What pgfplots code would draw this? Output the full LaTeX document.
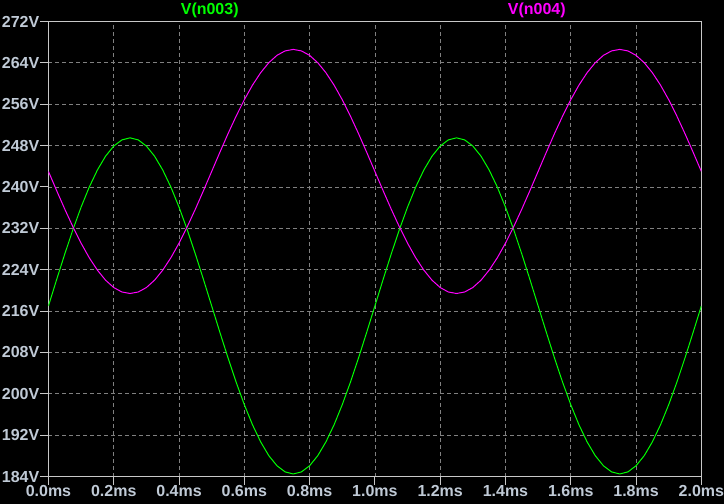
\documentclass[border=0pt]{standalone}
\usepackage{pgfplots}
\usepackage{pgfplotstable}
\usepackage{fontspec}
\setmainfont{Liberation Sans}
\pgfplotsset{compat=1.18}
\definecolor{ticklab}{RGB}{192,202,214}
\definecolor{axline}{RGB}{200,200,200}
\definecolor{gridc}{RGB}{128,128,128}
\definecolor{ltgreen}{RGB}{0,255,0}
\definecolor{ltmag}{RGB}{255,0,255}
\pgfplotstableread{
t g m
0.000 217.00 243.00
0.025 222.08 239.31
0.050 227.04 235.71
0.075 231.76 232.29
0.100 236.10 229.13
0.125 239.98 226.31
0.150 243.29 223.91
0.175 245.96 221.97
0.200 247.91 220.55
0.225 249.10 219.69
0.250 249.50 219.40
0.275 249.10 219.69
0.300 247.91 220.55
0.325 245.96 221.97
0.350 243.29 223.91
0.375 239.98 226.31
0.400 236.10 229.13
0.425 231.76 232.29
0.450 227.04 235.71
0.475 222.08 239.31
0.500 217.00 243.00
0.525 211.92 246.69
0.550 206.96 250.29
0.575 202.24 253.71
0.600 197.90 256.87
0.625 194.02 259.69
0.650 190.71 262.09
0.675 188.04 264.03
0.700 186.09 265.45
0.725 184.90 266.31
0.750 184.50 266.60
0.775 184.90 266.31
0.800 186.09 265.45
0.825 188.04 264.03
0.850 190.71 262.09
0.875 194.02 259.69
0.900 197.90 256.87
0.925 202.24 253.71
0.950 206.96 250.29
0.975 211.92 246.69
1.000 217.00 243.00
1.025 222.08 239.31
1.050 227.04 235.71
1.075 231.76 232.29
1.100 236.10 229.13
1.125 239.98 226.31
1.150 243.29 223.91
1.175 245.96 221.97
1.200 247.91 220.55
1.225 249.10 219.69
1.250 249.50 219.40
1.275 249.10 219.69
1.300 247.91 220.55
1.325 245.96 221.97
1.350 243.29 223.91
1.375 239.98 226.31
1.400 236.10 229.13
1.425 231.76 232.29
1.450 227.04 235.71
1.475 222.08 239.31
1.500 217.00 243.00
1.525 211.92 246.69
1.550 206.96 250.29
1.575 202.24 253.71
1.600 197.90 256.87
1.625 194.02 259.69
1.650 190.71 262.09
1.675 188.04 264.03
1.700 186.09 265.45
1.725 184.90 266.31
1.750 184.50 266.60
1.775 184.90 266.31
1.800 186.09 265.45
1.825 188.04 264.03
1.850 190.71 262.09
1.875 194.02 259.69
1.900 197.90 256.87
1.925 202.24 253.71
1.950 206.96 250.29
1.975 211.92 246.69
2.000 217.00 243.00
}\datatable
\begin{document}
\begin{tikzpicture}
\fill[black] (-48.5pt,-27pt) rectangle (676.5pt,477pt);
\begin{axis}[
  at={(0pt,0pt)}, anchor=south west,
  scale only axis,
  width=653.5pt, height=455.5pt,
  xmin=0, xmax=2, ymin=184, ymax=272,
  axis line style={axline, line width=1pt},
  xtick={0,0.2,...,2.0},
  xticklabels={0.0ms,0.2ms,0.4ms,0.6ms,0.8ms,1.0ms,1.2ms,1.4ms,1.6ms,1.8ms,2.0ms},
  ytick={184,192,...,272},
  yticklabels={184V,192V,200V,208V,216V,224V,232V,240V,248V,256V,264V,272V},
  xtick pos=left, ytick pos=left,
  tick align=outside,
  major tick length=8pt,
  tick style={axline, line width=1pt},
  grid=major,
  major grid style={gridc, line width=0.8pt, dash pattern=on 4pt off 3pt},
  ticklabel style={font=\fontsize{16}{19}\selectfont\bfseries, text=ticklab},
  yticklabel style={inner sep=1pt},
  xticklabel style={inner sep=1pt},
  clip mode=individual,
]
\addplot[ltgreen, line width=1pt] table[x=t, y=g] {\datatable};
\addplot[ltmag, line width=1pt] table[x=t, y=m] {\datatable};
\node[anchor=base, text=ltgreen, font=\fontsize{16}{19}\selectfont\bfseries] at ([yshift=6.5pt]rel axis cs:0.247,1) {V(n003)};
\node[anchor=base, text=ltmag, font=\fontsize{16}{19}\selectfont\bfseries] at ([yshift=6.5pt]rel axis cs:0.748,1) {V(n004)};
\end{axis}
\end{tikzpicture}
\end{document}
